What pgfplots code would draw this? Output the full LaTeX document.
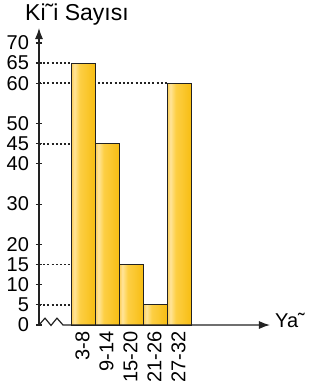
\documentclass[border=0pt]{standalone}
\usepackage{fontspec}
\setmainfont{Liberation Sans}
\usepackage{pgfplots}
\pgfplotsset{compat=1.18}
\usetikzlibrary{arrows.meta}
\definecolor{barL}{HTML}{FCD05A}
\definecolor{barH}{HTML}{FFE49A}
\definecolor{barM}{HTML}{FDCF45}
\definecolor{barR}{HTML}{F7BD12}
\definecolor{axisc}{HTML}{222222}
\pgfdeclarehorizontalshading{barshade}{100bp}{color(0bp)=(barL); color(25bp)=(barL); color(31bp)=(barH); color(42bp)=(barM); color(75bp)=(barR); color(100bp)=(barR)}
\pgfplotsset{mybar/.style={ybar, bar width=24pt, bar shift=0pt, draw=axisc, line width=0.9pt, shading=barshade, mark=none}}
\tikzset{dotl/.style={axisc, line width=1.8pt, dash pattern=on 2pt off 2.2pt}}
\begin{document}
\begin{tikzpicture}
\begin{axis}[
  x=1pt, y=4.03pt,
  xmin=39, xmax=272, ymin=0, ymax=73.7,
  axis lines=left,
  x axis line style={draw=none},
  y axis line style={line width=1.2pt, color=axisc, -{Latex[length=11pt,width=8pt]}},
  clip=false,
  ytick={0,5,10,15,20,30,40,45,50,60,65,70},
  ytick style={line width=1.2pt, color=axisc},
  major tick length=6pt,
  tick align=center,
  yticklabel style={font=\fontsize{20}{20}\selectfont, xshift=-3.5pt},
  /pgf/number format/assume math mode=true,
  xtick={83.5,107.5,131.5,155.5,179.5},
  xticklabels={3-8,9-14,15-20,21-26,27-32},
  x tick style={draw=none},
  xticklabel style={font=\fontsize{20}{20}\selectfont, rotate=90, anchor=east, yshift=1pt},
]
\draw[dotl] (axis cs:39,65) -- (axis cs:71.5,65);
\draw[dotl] (axis cs:39,60) -- (axis cs:167.5,60);
\draw[dotl] (axis cs:39,45) -- (axis cs:71.5,45);
\draw[dotl] (axis cs:39,15) -- (axis cs:71.5,15);
\draw[dotl] (axis cs:39,5) -- (axis cs:71.5,5);
\addplot[mybar] coordinates {(83.5,65)};
\addplot[mybar] coordinates {(107.5,45)};
\addplot[mybar] coordinates {(131.5,15)};
\addplot[mybar] coordinates {(155.5,5)};
\addplot[mybar] coordinates {(179.5,60)};
\draw[axisc, line width=1.2pt, line join=miter, -{Latex[length=11pt,width=8pt]}]
  (axis cs:39,0) -- (axis cs:45,1.7) -- (axis cs:51,-0.1) -- (axis cs:57,1.7) -- (axis cs:63,0) -- (axis cs:270,0);
\node[anchor=base west, inner sep=0pt, font=\fontsize{23}{23}\selectfont] at (axis cs:25,75.6) {Ki˜i Sayısı};
\node[anchor=base west, inner sep=0pt, font=\fontsize{20}{20}\selectfont] at (axis cs:275,-0.74) {Ya˜};
\coordinate (BL) at (axis cs:0,-15.63);
\coordinate (TR) at (axis cs:310,80.65);
\end{axis}
\pgfresetboundingbox
\path[use as bounding box] (BL) rectangle (TR);
\end{tikzpicture}
\end{document}
